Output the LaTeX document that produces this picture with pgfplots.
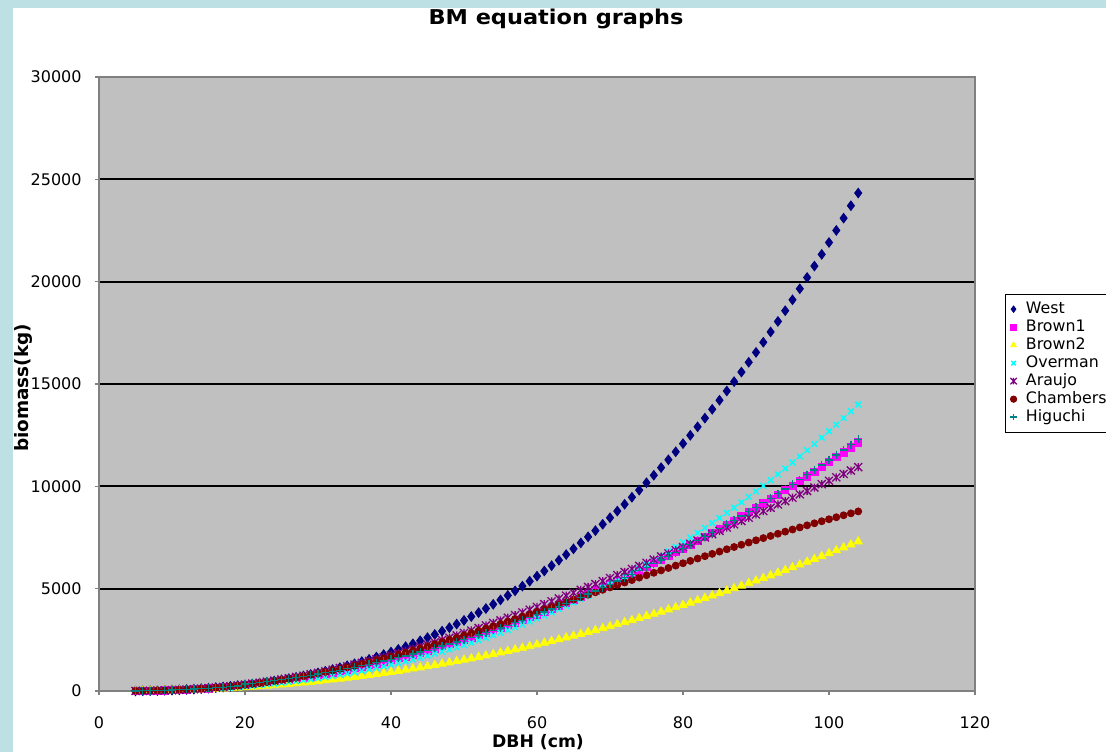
\documentclass[border=0pt]{standalone}
\usepackage{pgfplots}
\pgfplotsset{compat=1.18}
\usepackage{pgfplotstable}
\usepackage{fontspec}
\setmainfont{DejaVu Sans}
\newfontfamily\titlefont[FakeStretch=1.1]{DejaVu Sans}

\definecolor{frameblue}{RGB}{188,224,228}
\definecolor{plotgray}{RGB}{192,192,192}
\definecolor{axisgray}{RGB}{128,128,128}
\definecolor{cWest}{RGB}{0,0,128}
\definecolor{cBrownA}{RGB}{255,0,255}
\definecolor{cBrownB}{RGB}{255,255,0}
\definecolor{cOverman}{RGB}{0,255,255}
\definecolor{cAraujo}{RGB}{128,0,128}
\definecolor{cChambers}{RGB}{128,0,0}
\definecolor{cHiguchi}{RGB}{0,128,128}

% x with a vertical bar through it
\pgfdeclareplotmark{xbar}{%
  \pgfpathmoveto{\pgfqpoint{-\pgfplotmarksize}{-\pgfplotmarksize}}%
  \pgfpathlineto{\pgfqpoint{\pgfplotmarksize}{\pgfplotmarksize}}%
  \pgfpathmoveto{\pgfqpoint{-\pgfplotmarksize}{\pgfplotmarksize}}%
  \pgfpathlineto{\pgfqpoint{\pgfplotmarksize}{-\pgfplotmarksize}}%
  \pgfpathmoveto{\pgfqpoint{0pt}{-\pgfplotmarksize}}%
  \pgfpathlineto{\pgfqpoint{0pt}{\pgfplotmarksize}}%
  \pgfusepathqstroke}

\pgfplotsset{single mark/.style={only marks,
  legend image code/.code={\draw[##1,mark size=1.6pt] plot coordinates {(0pt,0pt)};}}}

% biomass (kg) against DBH (cm)
\pgfplotstableread{
D West Brown1 Brown2 Overman Araujo Chambers Higuchi
5 7 10 5 7 4 8 8
6 11 11 6 11 6 11 12
7 17 14 9 16 11 17 18
8 25 20 13 22 18 25 26
9 35 28 19 31 28 35 36
10 47 39 26 40 41 47 47
11 60 52 34 51 54 60 60
12 76 68 44 63 71 76 75
13 94 86 56 77 91 95 92
14 115 107 69 93 114 117 111
15 139 130 84 111 140 141 133
16 165 156 99 130 168 168 157
17 193 184 117 151 200 198 183
18 226 215 136 174 235 230 212
19 261 248 156 200 273 266 243
20 300 283 178 227 314 305 343
21 341 322 202 256 358 347 382
22 386 362 226 288 405 392 422
23 434 405 253 322 456 440 465
24 487 451 281 358 509 491 510
25 544 499 310 397 565 545 557
26 603 549 341 437 625 602 607
27 667 603 373 480 688 662 659
28 735 658 407 526 753 725 713
29 807 716 442 575 821 790 769
30 884 776 479 626 892 859 828
31 964 839 517 679 966 931 889
32 1049 905 557 735 1043 1005 952
33 1139 973 598 794 1122 1082 1018
34 1234 1043 640 855 1204 1161 1086
35 1333 1116 684 920 1289 1242 1157
36 1437 1192 730 987 1376 1327 1230
37 1545 1269 777 1057 1466 1414 1305
38 1660 1350 826 1130 1558 1503 1383
39 1779 1433 876 1205 1653 1594 1463
40 1904 1518 927 1284 1750 1687 1545
41 2033 1606 980 1366 1850 1782 1630
42 2167 1696 1035 1451 1951 1880 1718
43 2308 1789 1091 1539 2055 1979 1808
44 2454 1884 1148 1630 2161 2079 1900
45 2606 1982 1207 1724 2268 2182 1995
46 2763 2082 1267 1821 2378 2286 2093
47 2926 2185 1329 1922 2490 2392 2193
48 3095 2290 1393 2026 2604 2499 2295
49 3270 2398 1457 2133 2720 2607 2400
50 3451 2508 1524 2244 2837 2717 2508
51 3638 2620 1591 2357 2957 2828 2618
52 3831 2735 1661 2475 3079 2940 2731
53 4031 2853 1731 2595 3202 3054 2846
54 4237 2973 1804 2720 3326 3167 2964
55 4450 3096 1877 2847 3453 3282 3084
56 4669 3221 1953 2978 3581 3398 3207
57 4894 3348 2029 3113 3711 3515 3333
58 5126 3478 2107 3251 3842 3632 3461
59 5366 3611 2187 3394 3974 3749 3592
60 5612 3746 2268 3539 4108 3867 3725
61 5865 3883 2351 3688 4244 3986 3861
62 6124 4023 2435 3841 4380 4105 4000
63 6391 4166 2520 3998 4519 4225 4141
64 6666 4311 2607 4159 4658 4344 4285
65 6947 4458 2696 4323 4798 4464 4432
66 7236 4608 2786 4491 4940 4584 4581
67 7532 4760 2877 4663 5083 4704 4733
68 7835 4915 2970 4839 5228 4824 4888
69 8147 5073 3065 5019 5373 4944 5045
70 8466 5232 3161 5203 5519 5063 5205
71 8791 5395 3258 5391 5667 5183 5368
72 9125 5560 3357 5583 5815 5302 5533
73 9467 5727 3457 5779 5964 5421 5701
74 9817 5897 3559 5979 6115 5540 5872
75 10175 6069 3662 6183 6266 5658 6046
76 10541 6244 3767 6391 6418 5776 6222
77 10915 6421 3873 6603 6571 5894 6401
78 11297 6601 3981 6820 6725 6011 6583
79 11688 6783 4090 7041 6880 6127 6767
80 12087 6967 4201 7266 7035 6243 6955
81 12493 7155 4313 7495 7191 6359 7145
82 12909 7344 4427 7728 7348 6473 7337
83 13333 7536 4542 7966 7506 6587 7533
84 13765 7731 4659 8208 7664 6700 7731
85 14207 7928 4777 8455 7823 6813 7933
86 14657 8128 4896 8705 7983 6925 8136
87 15116 8330 5017 8961 8143 7036 8343
88 15583 8534 5140 9220 8304 7146 8553
89 16060 8741 5264 9485 8465 7255 8765
90 16546 8951 5390 9753 8627 7363 8980
91 17041 9163 5517 10026 8790 7471 9198
92 17545 9377 5645 10304 8953 7577 9419
93 18058 9594 5775 10586 9116 7683 9642
94 18581 9814 5906 10873 9280 7787 9869
95 19113 10036 6039 11165 9444 7891 10098
96 19653 10260 6174 11461 9609 7993 10330
97 20204 10487 6310 11762 9774 8095 10565
98 20764 10716 6447 12067 9940 8195 10803
99 21334 10948 6586 12377 10106 8295 11043
100 21914 11183 6726 12693 10272 8393 11287
101 22504 11420 6868 13012 10439 8490 11533
102 23103 11659 7011 13337 10606 8586 11782
103 23712 11901 7156 13666 10773 8681 12035
104 24330 12145 7302 14000 10940 8775 12290
}\bmdata

\begin{document}
\begin{tikzpicture}
\useasboundingbox (0pt,0pt) rectangle (553pt,376pt);
\fill[frameblue] (0pt,0pt) rectangle (553pt,376pt);
\fill[white] (6.5pt,0pt) rectangle (553pt,372pt);

\begin{axis}[
  at={(49.5pt,30.5pt)}, anchor=south west,
  scale only axis, width=438pt, height=307pt,
  xmin=0, xmax=120, ymin=0, ymax=30000,
  xtick={0,20,...,120}, ytick={0,5000,...,30000},
  scaled y ticks=false,
  /pgf/number format/assume math mode=true,
  /pgf/number format/set thousands separator={},
  axis background/.style={fill=plotgray},
  axis line style={axisgray, line width=0.8pt},
  ymajorgrids, grid style={black, line width=0.9pt},
  tick align=outside, tick pos=left, major tick length=2pt,
  tick style={axisgray, line width=0.6pt},
  tick label style={font=\fontsize{8pt}{9pt}\selectfont, black},
  yticklabel style={inner sep=0pt, anchor=east, xshift=-6.5pt},
  xticklabel style={inner sep=0pt, anchor=north, yshift=-10.5pt},
  clip=false,
  legend style={at={(1.0342,0.647)}, anchor=north west,
    draw=black, line width=0.4pt, fill=white,
    font=\fontsize{7.9pt}{9pt}\selectfont,
    inner xsep=2.5pt, inner ysep=3pt, row sep=0pt,
    nodes={inner ysep=0.75pt, inner xsep=1.6pt, text height=6pt, text depth=1.5pt},
    /tikz/every odd column/.append style={column sep=3pt}},
  legend cell align=left,
]
\addplot[single mark, mark=diamond*, mark size=2.4pt, color=cWest] table[x=D, y=West] {\bmdata};
\addlegendentry{West}
\addplot[single mark, mark=square*, mark size=1.8pt, color=cBrownA] table[x=D, y=Brown1] {\bmdata};
\addlegendentry{Brown1}
\addplot[single mark, mark=triangle*, mark size=2.4pt, color=cBrownB] table[x=D, y=Brown2] {\bmdata};
\addlegendentry{Brown2}
\addplot[single mark, mark=x, mark size=2pt, line width=0.75pt, color=cOverman] table[x=D, y=Overman] {\bmdata};
\addlegendentry{Overman}
\addplot[single mark, mark=xbar, mark size=2pt, line width=0.65pt, color=cAraujo] table[x=D, y=Araujo] {\bmdata};
\addlegendentry{Araujo}
\addplot[single mark, mark=*, mark size=1.75pt, color=cChambers] table[x=D, y=Chambers] {\bmdata};
\addlegendentry{Chambers}
\addplot[single mark, mark=+, mark size=2pt, line width=0.65pt, color=cHiguchi] table[x=D, y=Higuchi] {\bmdata};
\addlegendentry{Higuchi}
\end{axis}

\node[anchor=base, inner sep=0pt] at (278pt,363.5pt)
  {\fontsize{10.2pt}{12pt}\titlefont\bfseries BM equation graphs};
\node[anchor=base, rotate=90, inner sep=0pt] at (14pt,182pt)
  {\fontsize{9.2pt}{11pt}\selectfont\bfseries biomass(kg)};
\node[anchor=base, inner sep=0pt] at (269pt,2.5pt)
  {\fontsize{8.6pt}{10pt}\selectfont\bfseries DBH (cm)};
\end{tikzpicture}
\end{document}
